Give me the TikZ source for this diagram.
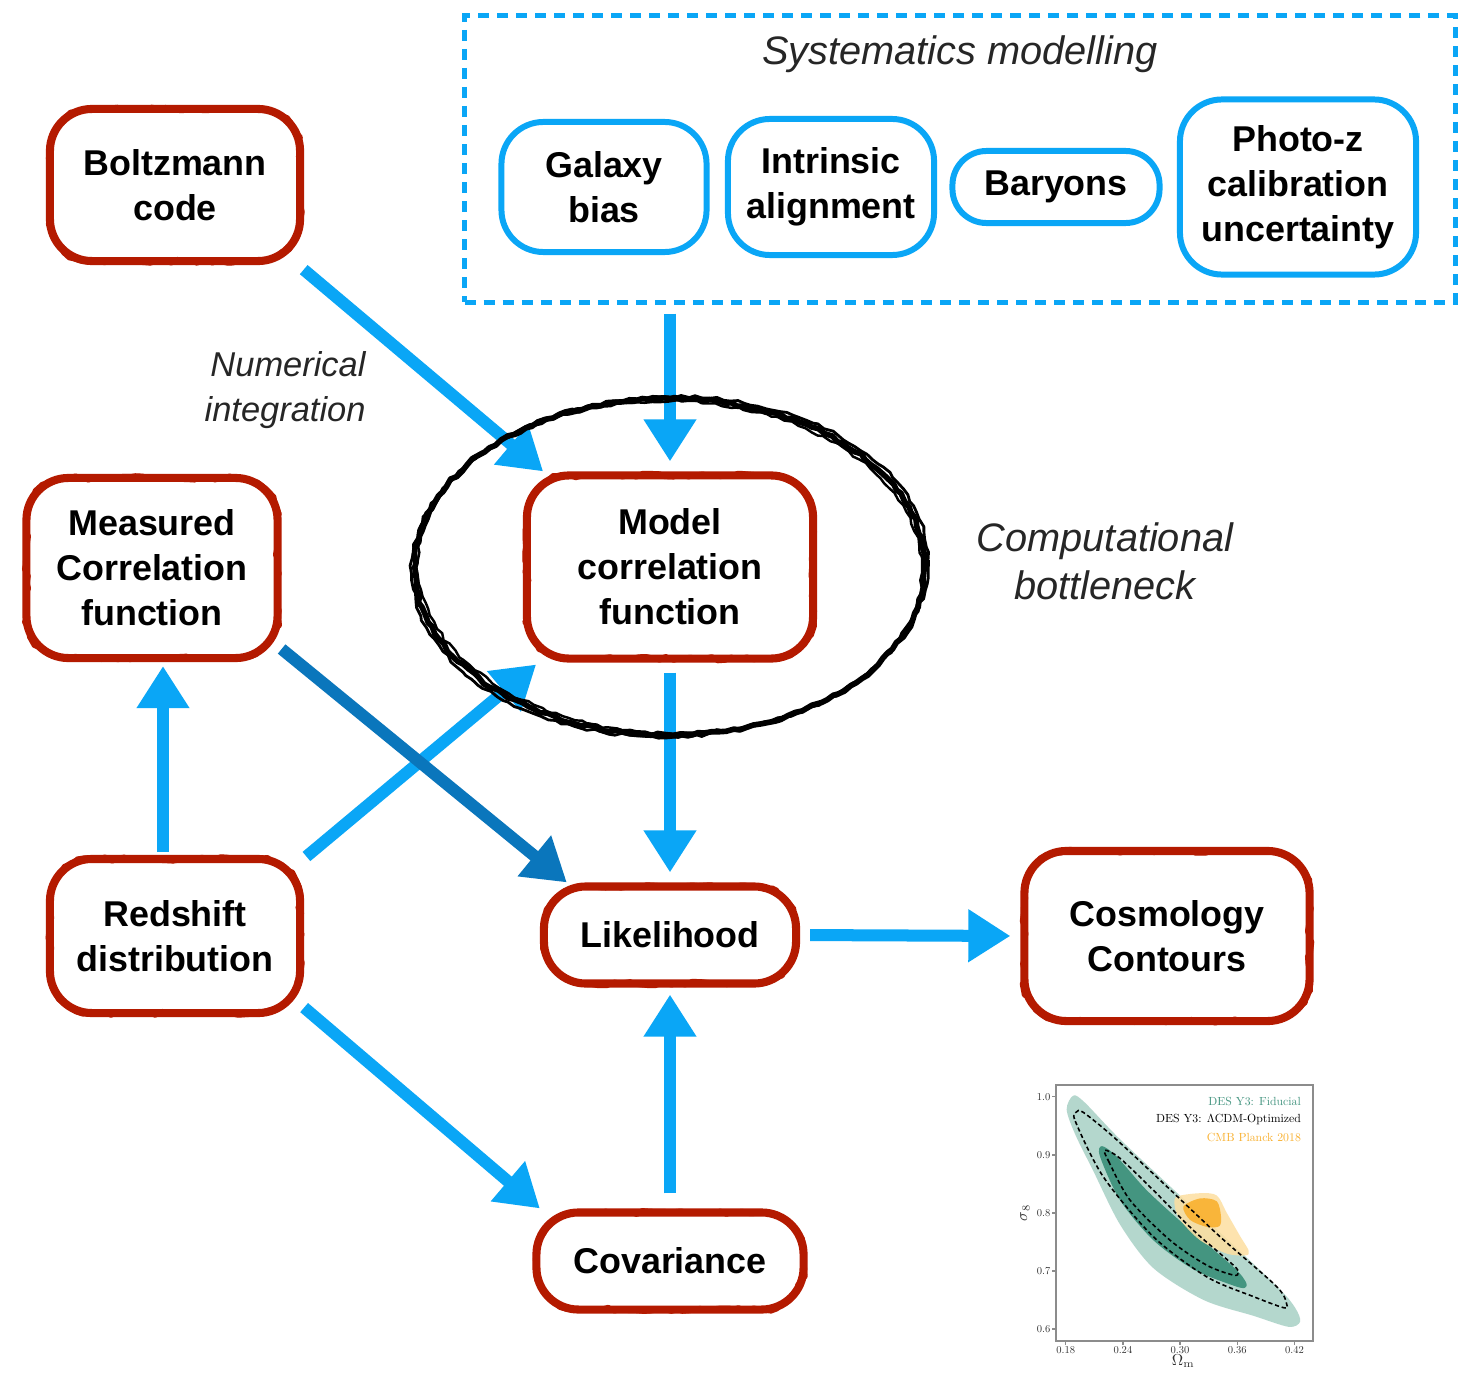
\documentclass[tikz,border=0pt]{standalone}
\usepackage{fontspec}
\newfontfamily\helv{Liberation Sans}
\usetikzlibrary{arrows.meta,positioning,calc,decorations.pathmorphing}
\definecolor{cRed}{HTML}{B41A00}
\definecolor{cSky}{HTML}{0AA6F6}
\definecolor{cDeep}{HTML}{0A76BC}
\definecolor{cFid}{HTML}{449580}
\definecolor{cFidL}{HTML}{B4D7CD}
\definecolor{cPlk}{HTML}{F9B02E}
\definecolor{cPlkL}{HTML}{FDDFA0}
\definecolor{cAxis}{HTML}{8C8C8C}
\tikzset{
  rough/.style={draw=cRed,line width=2.3pt,rounded corners=0.42cm,align=center,inner sep=2pt,
    font=\helv\bfseries\fontsize{10.2}{12.8}\selectfont,
    postaction={draw=cRed,sharp corners,line join=round,line cap=round,line width=1.3pt,decorate,
      decoration={random steps,segment length=2pt,amplitude=0.7pt}}},
  sysbox/.style={draw=cSky,line width=1.7pt,rounded corners=0.42cm,align=center,inner sep=2pt,
    font=\helv\bfseries\fontsize{10.2}{12.8}\selectfont},
  arr/.style={-{Triangle[length=0.42cm,width=0.5cm]},line width=0.12cm,color=cSky},
  note/.style={font=\helv\itshape\fontsize{11.3}{13.6}\selectfont,text=black!85,align=center},
  sketchy/.style={draw=black,line join=round,decorate,decoration={random steps,segment length=2pt,amplitude=0.45pt}},
}

\begin{document}
\begin{tikzpicture}[x=0.01cm,y=0.01cm,
    tick/.style={font=\fontsize{10}{12}\selectfont,scale=0.3,transform shape,inner sep=1pt,text=black!80},
    leg/.style={font=\fontsize{10}{12}\selectfont,scale=0.335,transform shape,inner sep=0pt,anchor=east},
    band/.style={line width=0.45pt,dash pattern=on 1.2pt off 0.8pt}]
  \useasboundingbox[fill=white] (0,0) rectangle (1479,-1373);
  \pgfmathsetseed{11}

  % systematics
  \node[draw=cSky,line width=1.4pt,dash pattern=on 0.11cm off 0.08cm,
        minimum width=9.9cm,minimum height=2.86cm] (sys) at (960,-159) {};
  \node[note] (systitle) at (960,-54) {Systematics modelling};
  \node[sysbox,minimum width=2.05cm,minimum height=1.3cm]  (gal)    at (604,-187)  {Galaxy\\bias};
  \node[sysbox,minimum width=2.06cm,minimum height=1.36cm] (ia)     at (831,-187)  {Intrinsic\\alignment};
  \node[sysbox,minimum width=2.07cm,minimum height=0.72cm,rounded corners=0.34cm] (bary) at (1056,-187) {Baryons};
  \node[sysbox,minimum width=2.36cm,minimum height=1.75cm] (photoz) at (1298,-187) {Photo-z\\calibration\\uncertainty};

  % pipeline
  \node[rough,minimum width=2.5cm,minimum height=1.52cm]  (boltz) at (175,-185)  {Boltzmann\\code};
  \node[rough,minimum width=2.51cm,minimum height=1.8cm]  (meas)  at (152,-568)  {Measured\\Correlation\\function};
  \node[rough,minimum width=2.86cm,minimum height=1.83cm] (model) at (670,-567)  {Model\\correlation\\function};
  \node[rough,minimum width=2.5cm,minimum height=1.54cm]  (red)   at (175,-936)  {Redshift\\distribution};
  \node[rough,minimum width=2.52cm,minimum height=0.97cm] (like)  at (670,-935)  {Likelihood};
  \node[rough,minimum width=2.67cm,minimum height=0.97cm] (cov)   at (670,-1261) {Covariance};
  \node[rough,minimum width=2.85cm,minimum height=1.7cm]  (cosmo) at (1167,-936) {Cosmology\\Contours};

  \node[note,font=\helv\itshape\fontsize{9.8}{12.8}\selectfont,align=right,anchor=east] (numint) at (378,-390) {Numerical\\integration};
  \node[note] (bneck) at (1105,-561) {Computational\\bottleneck};

  % arrows
  \draw[arr,shorten <=2pt] (boltz.-33) -- (model.143);
  \draw[arr,shorten <=0.09cm,shorten >=0.1cm] (model.north |- sys.south) -- (model.north);
  \draw[arr,shorten <=0.1cm,shorten >=0.1cm] (model.south) -- (like.north);
  \draw[arr,shorten <=0.03cm,shorten >=0.04cm] ($(red.north)+(-12,0)$) -- ($(meas.south)+(11,0)$);
  \draw[arr,shorten <=0.03cm,shorten >=0.03cm] (red.31) -- (model.216);
  \draw[arr,color=cDeep] (meas.-32) -- (like.153);
  \draw[arr] (red.-29) -- (cov.158);
  \draw[arr,shorten <=0.15cm,shorten >=0.07cm] (cov.north) -- (like.south);
  \draw[arr,shorten <=0.1cm,shorten >=0.1cm] (like.east) -- (cosmo.west);

  % hand drawn ring
  \foreach \rx/\ry/\rot/\lw in {2.55/1.68/0/1.6,2.58/1.70/1.5/0.8,2.52/1.66/-1.2/0.7}
    \draw[sketchy,line width=\lw pt,rotate around={\rot:(model.center)}]
      (model.center) ellipse [x radius=\rx cm,y radius=\ry cm];

  % contour inset
  \begin{scope}[shift={(1065.7,-1096.7)},x=9.525cm,y=5.808cm,shift={(-0.18,-1.0)}]
    \fill[cFidL] plot[smooth cycle] coordinates {(0.188,1.002) (0.181,0.978) (0.19,0.935) (0.209,0.872)
      (0.237,0.78) (0.272,0.705) (0.325,0.65) (0.377,0.623) (0.414,0.604) (0.426,0.613) (0.421,0.636)
      (0.405,0.668) (0.35,0.754) (0.29,0.845) (0.235,0.93) (0.2,0.99)};
    \fill[cFid] plot[smooth cycle] coordinates {(0.218,0.915) (0.216,0.897) (0.237,0.822) (0.272,0.753)
      (0.314,0.703) (0.356,0.675) (0.368,0.671) (0.369,0.681) (0.356,0.707) (0.307,0.776) (0.265,0.839) (0.2335,0.897)};
    \fill[cPlkL,opacity=0.85] plot[smooth cycle] coordinates {(0.2965,0.828) (0.321,0.834) (0.3385,0.83)
      (0.349,0.8) (0.363,0.76) (0.372,0.735) (0.369,0.727) (0.349,0.73) (0.321,0.753) (0.300,0.788) (0.2945,0.811)};
    \fill[cPlk,opacity=0.9] plot[smooth cycle] coordinates {(0.3035,0.811) (0.321,0.825) (0.3385,0.82)
      (0.343,0.793) (0.341,0.777) (0.328,0.776) (0.3105,0.788)};
    \draw[band] plot[smooth cycle] coordinates {(0.1915,0.974) (0.19,0.958) (0.2195,0.862) (0.272,0.759)
      (0.328,0.69) (0.377,0.656) (0.4085,0.637) (0.412,0.642) (0.4015,0.673) (0.342,0.759) (0.2825,0.851) (0.23,0.931) (0.1985,0.973)};
    \draw[band] plot[smooth cycle] coordinates {(0.221,0.908) (0.225,0.889) (0.2475,0.822) (0.2895,0.753)
      (0.328,0.71) (0.356,0.693) (0.361,0.697) (0.356,0.71) (0.314,0.77) (0.272,0.839) (0.237,0.894)};
    \draw[cAxis,line width=0.5pt] (0.1698,0.58) rectangle (0.4396,1.0201);
    \foreach \yv [count=\i] in {0.6,0.7,0.8,0.9,1.0} {
      \draw[cAxis,line width=0.4pt] (0.1698,\yv) -- (0.1656,\yv);
      \node[tick,anchor=east] (yt\i) at (0.1652,\yv) {\yv};
    }
    \foreach \xv [count=\i] in {0.18,0.24,0.30,0.36,0.42} {
      \draw[cAxis,line width=0.4pt] (\xv,0.58) -- (\xv,0.573);
      \node[tick,anchor=north] (xt\i) at (\xv,0.572) {\xv};
    }
    \node[tick,scale=1.5,rotate=90] (ylab) at (0.1373,0.80) {$\sigma_8$};
    \node[tick,scale=1.5] (xlab) at (0.3032,0.545) {$\Omega_{\rm m}$};
    \node[leg,text=cFid] (leg1) at (0.427,0.9924) {DES Y3: Fiducial};
    \node[leg,text=black] (leg2) at (0.427,0.9614) {DES Y3: $\Lambda$CDM-Optimized};
    \node[leg,text=cPlk] (leg3) at (0.427,0.9304) {CMB Planck 2018};
  \end{scope}
\end{tikzpicture}
\end{document}
